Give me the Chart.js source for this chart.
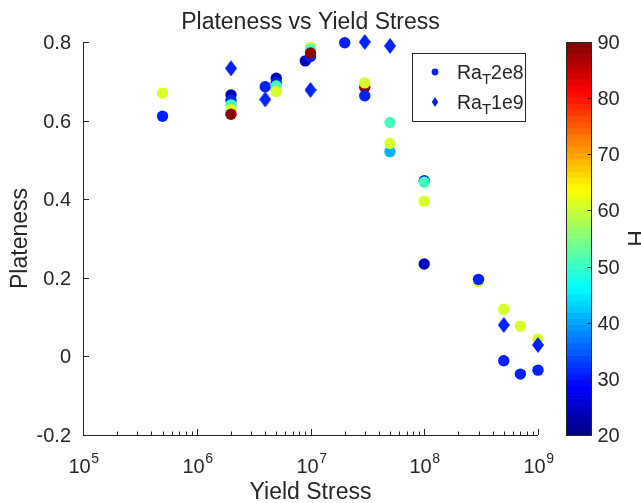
<!DOCTYPE html>
<html>
<head>
<meta charset="utf-8">
<script src="https://cdn.jsdelivr.net/npm/chart.js@4/dist/chart.umd.min.js"></script>
<style>
html,body{margin:0;padding:0;background:#fff;}
#wrap{width:641px;height:503px;}
</style>
</head>
<body>
<div id="wrap"><canvas id="c" width="641" height="503"></canvas></div>
<script>
// ---- data ----
const circleX = [5e5,5e5, 2e6,2e6,2e6,2e6,2e6, 4e6, 5e6,5e6,5e6,5e6, 9e6, 1e7,1e7,1e7,1e7, 2e7, 3e7,3e7,3e7, 5e7,5e7,5e7, 1e8,1e8,1e8,1e8, 3e8,3e8, 5e8,5e8, 7e8,7e8, 1e9,1e9];
const circleY = [0.670,0.611, 0.665,0.652,0.640,0.628,0.616, 0.686, 0.708,0.697,0.688,0.674, 0.752, 0.787,0.781,0.763,0.772, 0.798, 0.685,0.696,0.663, 0.595,0.521,0.542, 0.447,0.443,0.395,0.235, 0.190,0.196, 0.120,-0.011, 0.077,-0.045, 0.044,-0.035];
const circleH = [61,31, 24,31,51,61,89, 31, 24,31,51,61, 24, 61,51,31,89, 31, 89,61,31, 51,41,61, 31,51,61,24, 61,31, 61,31, 61,31, 61,31];
const diamondX = [2e6,4e6,1e7,3e7,5e7,5e8,1e9];
const diamondY = [0.733,0.654,0.678,0.800,0.790,0.080,0.029];
const diamondH = [31,31,31,31,31,31,31];
const xTickExps = [5,6,7,8,9];
const yTicks = [-0.2,0,0.2,0.4,0.6,0.8];
const cbTicks = [20,30,40,50,60,70,80,90];
const hMin = 20, hMax = 90;
const legendLabels = ['2e8','1e9'];

// ---- helpers ----
function jet(h){
  const t = Math.min(1, Math.max(0, (h - hMin) / (hMax - hMin)));
  const c = v => Math.round(255 * Math.min(1, Math.max(0, v)));
  return 'rgb(' + c(1.5 - Math.abs(4*t - 3)) + ',' + c(1.5 - Math.abs(4*t - 2)) + ',' + c(1.5 - Math.abs(4*t - 1)) + ')';
}
function diamondImg(w, h, color){
  const cv = document.createElement('canvas');
  cv.width = w; cv.height = h;
  const g = cv.getContext('2d');
  g.fillStyle = color;
  g.beginPath();
  g.moveTo(w/2, 0); g.lineTo(w, h/2); g.lineTo(w/2, h); g.lineTo(0, h/2);
  g.closePath(); g.fill();
  return cv;
}
const TXT = '#262626';
const FONT = '"Liberation Sans", Arial, Helvetica, sans-serif';

const circlePts = circleX.map((x,i)=>({x:x, y:circleY[i]}));
const diamondPts = diamondX.map((x,i)=>({x:x, y:diamondY[i]}));

const decor = {
  id: 'decor',
  afterDraw(chart){
    const ctx = chart.ctx;
    const xs = chart.scales.x, ys = chart.scales.y;
    const L = chart.chartArea.left, R = chart.chartArea.right, T = chart.chartArea.top, B = chart.chartArea.bottom;
    ctx.save();
    ctx.strokeStyle = TXT; ctx.fillStyle = TXT; ctx.lineWidth = 1;
    // axes lines
    ctx.beginPath();
    ctx.moveTo(L+0.5, T); ctx.lineTo(L+0.5, B+0.5); ctx.lineTo(R, B+0.5);
    ctx.stroke();
    // y ticks
    ctx.font = '20px ' + FONT;
    ctx.textAlign = 'right'; ctx.textBaseline = 'middle';
    yTicks.forEach(v=>{
      const py = Math.round(ys.getPixelForValue(v)) + 0.5;
      ctx.beginPath(); ctx.moveTo(L, py); ctx.lineTo(L+6, py); ctx.stroke();
      ctx.fillText(String(v), L - 12, py + 1);
    });
    // x ticks (log, major + minor)
    xTickExps.forEach((e, idx)=>{
      const px = Math.round(xs.getPixelForValue(Math.pow(10, e))) + 0.5;
      ctx.beginPath(); ctx.moveTo(px, B); ctx.lineTo(px, B-6); ctx.stroke();
      if (idx < xTickExps.length - 1) {
        for (let m = 2; m <= 9; m++) {
          const mx = Math.round(xs.getPixelForValue(m * Math.pow(10, e))) + 0.5;
          ctx.beginPath(); ctx.moveTo(mx, B); ctx.lineTo(mx, B-3.5); ctx.stroke();
        }
      }
      // label 10^e
      ctx.font = '20px ' + FONT;
      const w1 = ctx.measureText('10').width;
      ctx.font = '14px ' + FONT;
      const w2 = ctx.measureText(String(e)).width;
      const x0 = px - (w1 + w2) / 2;
      ctx.textAlign = 'left'; ctx.textBaseline = 'alphabetic';
      ctx.font = '20px ' + FONT;
      ctx.fillText('10', x0, B + 38);
      ctx.font = '14px ' + FONT;
      ctx.fillText(String(e), x0 + w1 + 0.5, B + 28);
    });
    // title and axis labels
    ctx.font = '23px ' + FONT;
    ctx.textAlign = 'center'; ctx.textBaseline = 'alphabetic';
    ctx.fillText('Plateness vs Yield Stress', (L + R) / 2, 29);
    ctx.fillText('Yield Stress', (L + R) / 2, 499);
    ctx.save();
    ctx.translate(27, (T + B) / 2);
    ctx.rotate(-Math.PI / 2);
    ctx.fillText('Plateness', 0, 0);
    ctx.restore();

    // colorbar
    const cbL = 566.5, cbR = 591.5;
    const n = 64;
    for (let i = 0; i < n; i++) {
      const h0 = hMin + (hMax - hMin) * i / n, h1 = hMin + (hMax - hMin) * (i + 1) / n;
      const yA = ys.getPixelForValue(-0.2 + (h0 - hMin) / (hMax - hMin));
      const yB = ys.getPixelForValue(-0.2 + (h1 - hMin) / (hMax - hMin));
      ctx.fillStyle = jet((h0 + h1) / 2 + 0.0001);
      ctx.fillRect(cbL, yB, cbR - cbL, yA - yB + 0.6);
    }
    ctx.strokeStyle = TXT;
    ctx.strokeRect(cbL, T + 0.5, cbR - cbL, B - T);
    ctx.fillStyle = TXT;
    ctx.font = '20px ' + FONT;
    ctx.textAlign = 'left'; ctx.textBaseline = 'middle';
    cbTicks.forEach(v=>{
      const py = Math.round(ys.getPixelForValue(-0.2 + (v - hMin) / (hMax - hMin))) + 0.5;
      if (v !== hMin && v !== hMax) {
        ctx.beginPath(); ctx.moveTo(cbR, py); ctx.lineTo(cbR - 4, py); ctx.stroke();
      }
      ctx.fillText(String(v), cbR + 6, py + 1);
    });
    ctx.font = '23px ' + FONT;
    ctx.textAlign = 'center'; ctx.textBaseline = 'alphabetic';
    ctx.save();
    ctx.translate(645, (T + B) / 2);
    ctx.rotate(-Math.PI / 2);
    ctx.fillText('H', 0, 0);
    ctx.restore();

    // legend
    const lx = 412.5, ly = 53.5, lw = 113, lh = 68;
    ctx.fillStyle = '#fff';
    ctx.fillRect(lx, ly, lw, lh);
    ctx.strokeStyle = TXT;
    ctx.strokeRect(lx, ly, lw, lh);
    const rows = [72, 102];
    rows.forEach((ry, i)=>{
      const col = jet(i === 0 ? circleH[1] : diamondH[0]);
      ctx.fillStyle = col;
      if (i === 0) {
        ctx.beginPath(); ctx.arc(435, ry, 3.4, 0, Math.PI * 2); ctx.fill();
      } else {
        ctx.beginPath(); ctx.moveTo(435, ry - 5); ctx.lineTo(438.2, ry); ctx.lineTo(435, ry + 5); ctx.lineTo(431.8, ry); ctx.closePath(); ctx.fill();
      }
      ctx.fillStyle = TXT;
      ctx.textAlign = 'left'; ctx.textBaseline = 'alphabetic';
      ctx.font = '19.5px ' + FONT;
      const base = ry + 7;
      ctx.fillText('Ra', 457, base);
      const wRa = ctx.measureText('Ra').width;
      ctx.font = '15px ' + FONT;
      ctx.fillText('T', 457 + wRa, base + 5);
      const wT = ctx.measureText('T').width;
      ctx.font = '19.5px ' + FONT;
      ctx.fillText(legendLabels[i], 457 + wRa + wT, base);
    });
    ctx.restore();
  }
};

new Chart(document.getElementById('c'), {
  type: 'scatter',
  data: {
    datasets: [
      {
        label: 'Ra_T1e9',
        data: diamondPts,
        order: 0,
        pointStyle: diamondX.map((x,i)=>diamondImg(12, 16, jet(diamondH[i]))),
        pointRadius: 7,
        backgroundColor: diamondH.map(jet),
        borderWidth: 0,
        clip: false
      },
      {
        label: 'Ra_T2e8',
        data: circlePts,
        order: 1,
        pointStyle: 'circle',
        pointRadius: 5.7,
        backgroundColor: circleH.map(jet),
        borderColor: circleH.map(jet),
        borderWidth: 0,
        clip: false
      }
    ]
  },
  options: {
    responsive: false,
    animation: false,
    devicePixelRatio: 1,
    layout: { padding: { left: 83, right: 103, top: 42, bottom: 68 } },
    plugins: { legend: { display: false }, tooltip: { enabled: false }, title: { display: false } },
    scales: {
      x: { type: 'logarithmic', min: 1e5, max: 1e9, display: false },
      y: { type: 'linear', min: -0.2, max: 0.8, display: false }
    }
  },
  plugins: [decor]
});
</script>
</body>
</html>
